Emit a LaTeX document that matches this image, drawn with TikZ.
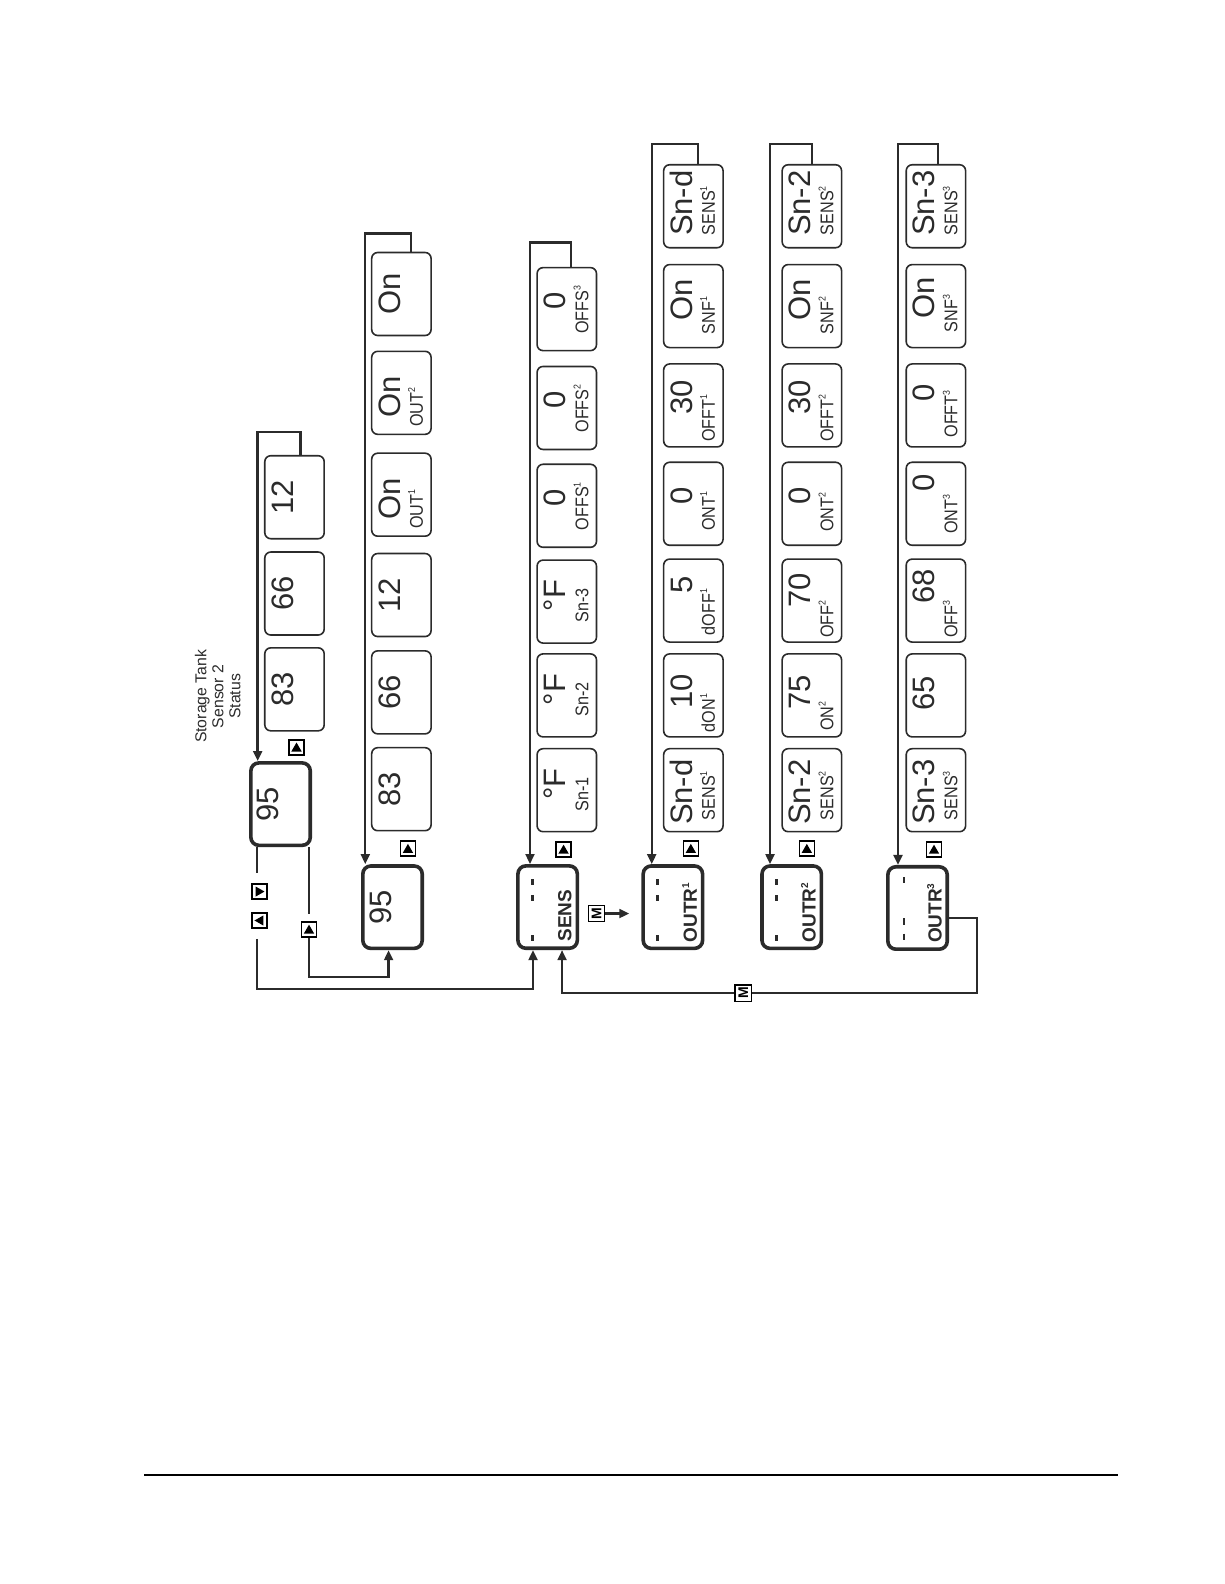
\documentclass[tikz,border=0pt]{standalone}
\usepackage{fontspec}
\setmainfont{Liberation Sans}
\newfontfamily\labfont[FakeStretch=0.88]{Liberation Sans}
\usetikzlibrary{calc,arrows.meta}
\definecolor{ink}{HTML}{2B2B2B}
\newcommand\DispBox[7]{%
  \node[vbox] (#1) at (#2,#3) {};
  \node[valt] (#1v) at ($(#1.center)+(-12.25,#6)$) {#4};
  \if\relax\detokenize{#5}\relax\else
  \node[labt] (#1l) at ($(#1.center)+(14.75,#7)$) {#5};
  \fi}
\newcommand\Sup[1]{\textsuperscript{\fontsize{5}{5}\selectfont #1}}
\begin{document}
\begin{tikzpicture}[x=0.50425pt,y=-0.50425pt,
  conn/.style={draw=ink,line width=1.2pt},
  arr/.style={-{Triangle[length=5pt,width=4.4pt]}},
  mainbox/.style={draw=ink,line width=1.8pt,rounded corners=4pt,rotate=90,minimum width=41.2pt,minimum height=29.7pt,inner sep=0pt},
  vbox/.style={draw=ink,line width=0.8pt,rounded corners=3pt,rotate=90,minimum width=41.5pt,minimum height=29.7pt,inner sep=0pt},
  valt/.style={rotate=90,inner sep=0pt,text height=11.1pt,text depth=0pt,font=\fontsize{15.5}{15.5}\selectfont,text=ink},
  labt/.style={rotate=90,inner sep=0pt,text height=6.6pt,text depth=0pt,font=\labfont\fontsize{9.2}{9.2}\selectfont,text=ink},
  headt/.style={rotate=90,inner sep=0pt,text height=6.8pt,text depth=0pt,font=\bfseries\fontsize{9.5}{9.5}\selectfont,text=ink},
  dseg/.style={draw=ink,line width=1.3pt},
  upicon/.style={draw=black,fill=white,line width=0.7pt,minimum size=7.5pt,inner sep=0pt,
    path picture={\fill[black] ($(path picture bounding box.center)+(-2.6pt,-2.1pt)$) -- ($(path picture bounding box.center)+(2.6pt,-2.1pt)$) -- ($(path picture bounding box.center)+(0pt,2.4pt)$) -- cycle;}},
  rticon/.style={draw=black,fill=white,line width=0.7pt,minimum size=7.5pt,inner sep=0pt,
    path picture={\fill[black] ($(path picture bounding box.center)+(-1.9pt,-2.5pt)$) -- ($(path picture bounding box.center)+(-1.9pt,2.5pt)$) -- ($(path picture bounding box.center)+(2.5pt,0pt)$) -- cycle;}},
  lticon/.style={draw=black,fill=white,line width=0.7pt,minimum size=7.5pt,inner sep=0pt,
    path picture={\fill[black] ($(path picture bounding box.center)+(1.9pt,-2.5pt)$) -- ($(path picture bounding box.center)+(1.9pt,2.5pt)$) -- ($(path picture bounding box.center)+(-2.5pt,0pt)$) -- cycle;}},
  micon/.style={draw=black,fill=white,line width=0.7pt,minimum size=8.2pt,inner sep=0pt,rotate=90,font=\bfseries\fontsize{7}{7}\selectfont},
]
\useasboundingbox (0,0) rectangle (1213.7,1570.6);

% ---------- Row 1 ----------
\node[rotate=90,align=center,inner sep=0pt,font=\fontsize{7.9}{8.5}\selectfont,text=ink] (lbl) at (216,690.5) {Storage Tank\\Sensor 2\\Status};
\node[mainbox] (r1m) at (278.2,797.3) {};
\node[valt] (r1mv) at ($(r1m.center)+(-13,0)$) {95};
\DispBox{r1a}{292}{683.5}{83}{}{0}{0}
\DispBox{r1b}{292}{588.5}{66}{}{0}{0}
\DispBox{r1c}{292}{493}{12}{}{0}{0}
\node[upicon] (ic1) at (294,741) {};

% ---------- Row 2 ----------
\node[mainbox] (r2m) at (389.2,899.5) {};
\node[valt] (r2mv) at ($(r2m.center)+(-12,0)$) {95};
\DispBox{r2a}{398}{782.5}{83}{}{0}{0}
\DispBox{r2b}{398}{686.5}{66}{}{0}{0}
\DispBox{r2c}{398}{590}{12}{}{0}{0}
\DispBox{r2d}{398}{490.5}{On}{OUT\Sup{1}}{4}{14}
\DispBox{r2e}{398}{389.5}{On}{OUT\Sup{2}}{4}{14}
\DispBox{r2f}{398}{291.5}{On}{}{0}{0}
\node[upicon] (ic5) at (404.5,841.5) {};

% ---------- Row 3 ----------
\node[mainbox] (r3m) at (543,899.4) {};
\node[headt] (r3mt) at ($(r3m.center)+(16.7,8.6)$) {SENS};
\draw[dseg] ($(r3m.center)+(-15,-27.8)$) -- ++(0,6);
\draw[dseg] ($(r3m.center)+(-15,-12)$) -- ++(0,6);
\draw[dseg] ($(r3m.center)+(-15,27.7)$) -- ++(0,6);
\DispBox{r3a}{562}{783.5}{°F}{Sn-1}{-6}{4}
\DispBox{r3b}{562}{689.5}{°F}{Sn-2}{-6}{4}
\DispBox{r3c}{562}{596.5}{°F}{Sn-3}{-6}{4}
\DispBox{r3d}{562}{501.5}{0}{OFFS\Sup{1}}{-8}{0}
\DispBox{r3e}{562}{404.5}{0}{OFFS\Sup{2}}{-8}{0}
\DispBox{r3f}{562}{306.5}{0}{OFFS\Sup{3}}{-8}{0}
\node[upicon] (ic6) at (558.8,842.3) {};
\node[micon] (m1) at (591.5,905.8) {M};

% ---------- Row 4 ----------
\node[mainbox] (r4m) at (667.2,899.5) {};
\node[headt] (r4mt) at ($(r4m.center)+(17,5)$) {OUTR\Sup{1}};
\draw[dseg] ($(r4m.center)+(-15,-27.8)$) -- ++(0,6);
\draw[dseg] ($(r4m.center)+(-15,-12)$) -- ++(0,6);
\draw[dseg] ($(r4m.center)+(-15,27.7)$) -- ++(0,6);
\DispBox{r4a}{687.5}{783.5}{Sn-d}{SENS\Sup{1}}{2}{5}
\DispBox{r4b}{687.5}{689.5}{10}{dON\Sup{1}}{-4}{17}
\DispBox{r4c}{687.5}{595.5}{5}{dOFF\Sup{1}}{-16}{11}
\DispBox{r4d}{687.5}{499.5}{0}{ONT\Sup{1}}{-8}{7}
\DispBox{r4e}{687.5}{402}{30}{OFFT\Sup{1}}{-8}{12}
\DispBox{r4f}{687.5}{303.5}{On}{SNF\Sup{1}}{-6}{9}
\DispBox{r4g}{687.5}{204.5}{Sn-d}{SENS\Sup{1}}{-3}{4}
\node[upicon] (ic7) at (685,841.5) {};

% ---------- Row 5 ----------
\node[mainbox] (r5m) at (785,899.5) {};
\node[headt] (r5mt) at ($(r5m.center)+(17,5)$) {OUTR\Sup{2}};
\draw[dseg] ($(r5m.center)+(-15,-27.8)$) -- ++(0,6);
\draw[dseg] ($(r5m.center)+(-15,-12)$) -- ++(0,6);
\draw[dseg] ($(r5m.center)+(-15,27.7)$) -- ++(0,6);
\DispBox{r5a}{805}{783.5}{Sn-2}{SENS\Sup{2}}{2}{5}
\DispBox{r5b}{805}{689.5}{75}{ON\Sup{2}}{-3}{20}
\DispBox{r5c}{805}{595.5}{70}{OFF\Sup{2}}{-10}{18}
\DispBox{r5d}{805}{499.5}{0}{ONT\Sup{2}}{-8}{8}
\DispBox{r5e}{805}{402}{30}{OFFT\Sup{2}}{-8}{12}
\DispBox{r5f}{805}{303.5}{On}{SNF\Sup{2}}{-6}{9}
\DispBox{r5g}{805}{204.5}{Sn-2}{SENS\Sup{2}}{-3}{4}
\node[upicon] (ic8) at (800,841.5) {};

% ---------- Row 6 ----------
\node[mainbox] (r6m) at (909.8,900.3) {};
\node[headt] (r6mt) at ($(r6m.center)+(17.2,4.7)$) {OUTR\Sup{3}};
\draw[dseg] ($(r6m.center)+(-13.4,-30.7)$) -- ++(0,6);
\draw[dseg] ($(r6m.center)+(-13.4,10.4)$) -- ++(0,6);
\draw[dseg] ($(r6m.center)+(-13.4,25.3)$) -- ++(0,6);
\DispBox{r6a}{928}{783.5}{Sn-3}{SENS\Sup{3}}{2}{5}
\DispBox{r6b}{928}{689.5}{65}{}{-2}{0}
\DispBox{r6c}{928}{595.5}{68}{OFF\Sup{3}}{-14}{18}
\DispBox{r6d}{928}{499.5}{0}{ONT\Sup{3}}{-21}{10}
\DispBox{r6e}{928}{402}{0}{OFFT\Sup{3}}{-12}{8}
\DispBox{r6f}{928}{303.5}{On}{SNF\Sup{3}}{-8}{7}
\DispBox{r6g}{928}{204.5}{Sn-3}{SENS\Sup{3}}{-3}{4}
\node[upicon] (ic9) at (926.1,842.3) {};

% ---------- feedback loops ----------
\draw[conn,arr] ($(r1c.east)+(6,0)$) -- ++(0,-23) -| ($(r1m.east)+(-22.7,0)$);
\draw[conn,arr] ($(r2f.east)+(9.5,0)$) -- ++(0,-18) -| ($(r2m.east)+(-27,0)$);
\draw[conn,arr] ($(r3f.east)+(4,0)$) -- ++(0,-24) -| ($(r3m.east)+(-17.5,0)$);
\draw[conn,arr] ($(r4g.east)+(4.5,0)$) -- ++(0,-20) -| ($(r4m.east)+(-21,0)$);
\draw[conn,arr] ($(r5g.east)+(0,0)$) -- ++(0,-20) -| ($(r5m.east)+(-21.5,0)$);
\draw[conn,arr] ($(r6g.east)+(2,0)$) -- ++(0,-20) -| ($(r6m.east)+(-19.4,0)$);

% ---------- lower connectors ----------
\draw[conn] ($(r1m.west)+(-23.4,0)$) -- ++(0,25.6);
\node[rticon] (ic2) at (257.3,884) {};
\node[lticon] (ic3) at (257.3,912.7) {};
\draw[conn,arr] ($(r1m.west)+(-23.4,91)$) -- ++(0,49.7) -| ($(r3m.west)+(-14.5,0)$);

\draw[conn] ($(r1m.west)+(28.2,0)$) -- ($(r1m.west)+(28.2,66)$);
\node[upicon] (ic4) at (306.4,921.6) {};
\draw[conn,arr] (ic4.south) -- ++(0,38.8) -| ($(r2m.west)+(-3.9,0)$);

\draw[conn,arr] (m1.south) -- ($(m1.south -| r4m.north)+(-12,0)$);

\draw[conn,arr] ($(r6m.south)+(0,10)$) -- ++(27.8,0) -- ++(0,74.3) -| ($(r3m.west)+(14.3,0)$);
\node[micon] (m2) at (737,984.6) {M};

% ---------- bottom rule ----------
\draw[line width=1.3pt,black] (142.8,1462.5) -- (1108.6,1462.5);
\end{tikzpicture}
\end{document}
